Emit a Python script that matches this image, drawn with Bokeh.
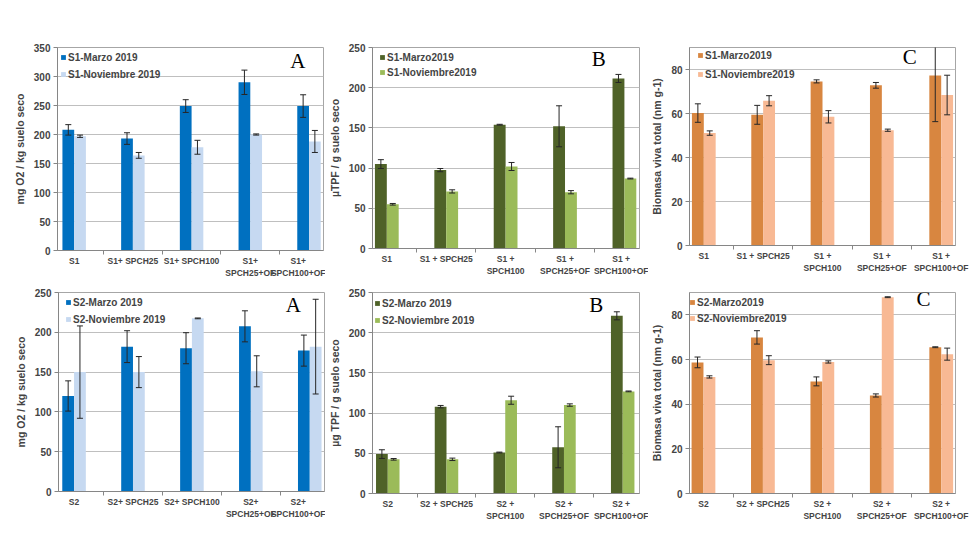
from bokeh.plotting import figure
from bokeh.models import (ColumnDataSource, Whisker, TeeHead, Legend, LegendItem, Label,
                          FixedTicker, Range1d)
from bokeh.layouts import row, column
from bokeh.embed import file_html
from bokeh.resources import INLINE

# ---------------- data ----------------
positions = [0, 1, 2, 3, 4]

cats_s1_a = ["S1", "S1+ SPCH25", "S1+ SPCH100", "S1+\nSPCH25+OF", "S1+\nSPCH100+OF"]
cats_s1 = ["S1", "S1 + SPCH25", "S1 +\nSPCH100", "S1 +\nSPCH25+OF", "S1 +\nSPCH100+OF"]
cats_s2_a = ["S2", "S2+ SPCH25", "S2+ SPCH100", "S2+\nSPCH25+OF", "S2+\nSPCH100+OF"]
cats_s2 = ["S2", "S2 + SPCH25", "S2 +\nSPCH100", "S2 +\nSPCH25+OF", "S2 +\nSPCH100+OF"]

# S1 respiration (A)
s1_resp_mar = [208, 193, 249, 290, 249]
s1_resp_mar_err = [9, 10, 11, 21, 19.5]
s1_resp_nov = [197, 164, 178, 200, 188]
s1_resp_nov_err = [2, 5, 12, 1, 19]
# S1 TPF (B)
s1_tpf_mar = [105, 97.5, 154, 152, 211.5]
s1_tpf_mar_err = [5.5, 2, 0.5, 25.5, 5]
s1_tpf_nov = [55, 71, 102, 70, 87]
s1_tpf_nov_err = [1, 2, 5, 2, 0.5]
# S1 biomass (C)
s1_bio_mar = [60.2, 59.4, 74.6, 72.8, 77.3]
s1_bio_mar_err = [4.2, 4.3, 0.7, 1.3, 21]
s1_bio_nov = [51.1, 65.8, 58.5, 52.4, 68.4]
s1_bio_nov_err = [1, 2.3, 2.8, 0.5, 9]
# S2 respiration (A)
s2_resp_mar = [120, 182, 180, 207.5, 177]
s2_resp_mar_err = [19, 20, 19.5, 19.5, 19.5]
s2_resp_nov = [150, 150, 217.5, 151, 182]
s2_resp_nov_err = [58, 19.5, 0.5, 19.5, 59.5]
# S2 TPF (B)
s2_tpf_mar = [49, 108, 51, 57.5, 221]
s2_tpf_mar_err = [5.4, 1.5, 0.5, 25.5, 5]
s2_tpf_nov = [42.5, 42.5, 116, 110, 127]
s2_tpf_nov_err = [1, 1.5, 5, 1.5, 0.5]
# S2 biomass (C)
s2_bio_mar = [58.7, 69.9, 50.2, 43.9, 65.5]
s2_bio_mar_err = [2.4, 3, 2, 0.7, 0.2]
s2_bio_nov = [52.2, 59.7, 58.9, 87.9, 62.4]
s2_bio_nov_err = [0.5, 2, 0.5, 0.2, 2.7]

ticks_resp_s1 = [0, 50, 100, 150, 200, 250, 300, 350]
ticks_250 = [0, 50, 100, 150, 200, 250]
ticks_bio = [0, 20, 40, 60, 80]

BLUE_D, BLUE_L = "#0070C0", "#C6D9F1"
GREEN_D, GREEN_L = "#4F6228", "#9BBB59"
ORANGE_D, ORANGE_L = "#D88640", "#F8B994"

FONT = "Liberation Sans"
GRID = "#BFBFBF"
AXIS = "#868686"


def panel(cats, mar, mar_err, nov, nov_err, labels, colors, ylabel, yticks, ymax,
          letter, letter_xy, xr, FW, FH, bl, br, bt, bb, leg_x, leg_top, leg_sp):
    p = figure(frame_width=FW, frame_height=FH, x_range=Range1d(*xr),
               y_range=Range1d(0, ymax),
               output_backend="svg", toolbar_location=None,
               min_border_left=bl, min_border_right=br, min_border_top=bt,
               min_border_bottom=bb)
    p.outline_line_color = "#A6A6A6"
    p.background_fill_color = "white"
    p.border_fill_color = "white"

    rends = []
    for off, vals, errs, col in ((-0.1, mar, mar_err, colors[0]),
                                 (0.1, nov, nov_err, colors[1])):
        xs = [x + off for x in positions]
        src = ColumnDataSource(dict(x=xs, top=vals,
                                    upper=[v + e for v, e in zip(vals, errs)],
                                    lower=[v - e for v, e in zip(vals, errs)]))
        r = p.vbar(x="x", top="top", width=0.2, source=src, fill_color=col,
                   line_color=None)
        rends.append(r)
        w = Whisker(base="x", upper="upper", lower="lower", source=src,
                    line_color="#262626", line_width=1, level="overlay",
                    upper_head=TeeHead(size=6, line_color="#262626", line_width=1),
                    lower_head=TeeHead(size=6, line_color="#262626", line_width=1))
        p.add_layout(w)

    item_h = 14
    leg_h = 2 * item_h + leg_sp
    leg = Legend(items=[LegendItem(label=labels[0], renderers=[rends[0]]),
                        LegendItem(label=labels[1], renderers=[rends[1]])],
                 location=(leg_x, FH - leg_top - leg_h), glyph_width=6, glyph_height=6,
                 label_height=item_h, label_width=10, spacing=leg_sp, padding=0,
                 margin=0, label_standoff=2,
                 label_text_font=FONT, label_text_font_style="bold",
                 label_text_font_size="10px", background_fill_alpha=0,
                 border_line_alpha=0)
    p.add_layout(leg)

    p.add_layout(Label(x=letter_xy[0], y=letter_xy[1], text=letter,
                       text_font="Liberation Serif", text_font_size="21px",
                       text_align="center", text_baseline="middle", text_color="black"))

    xa = p.xaxis[0]
    xa.ticker = FixedTicker(ticks=positions, minor_ticks=[0.5, 1.5, 2.5, 3.5])
    xa.major_label_overrides = {i: c for i, c in zip(positions, cats)}
    xa.major_tick_line_color = None
    xa.major_tick_out = 0
    xa.major_tick_in = 0
    xa.minor_tick_out = 4
    xa.minor_tick_in = 0
    xa.minor_tick_line_color = AXIS
    xa.axis_line_color = AXIS
    xa.major_label_standoff = 1
    xa.major_label_text_font = FONT
    xa.major_label_text_font_style = "bold"
    xa.major_label_text_font_size = "8.5px"

    ya = p.yaxis[0]
    ya.ticker = FixedTicker(ticks=yticks)
    ya.major_tick_out = 4
    ya.major_tick_in = 0
    ya.major_tick_line_color = AXIS
    ya.minor_tick_line_color = None
    ya.axis_line_color = AXIS
    ya.major_label_standoff = 3
    ya.major_label_text_font = FONT
    ya.major_label_text_font_style = "bold"
    ya.major_label_text_font_size = "10px"
    ya.axis_label = ylabel
    ya.axis_label_standoff = 5
    ya.axis_label_text_font = FONT
    ya.axis_label_text_font_style = "bold"
    ya.axis_label_text_font_size = "10.5px"

    p.xgrid.grid_line_color = None
    p.ygrid.grid_line_color = GRID
    return p


f1 = panel(cats_s1_a, s1_resp_mar, s1_resp_mar_err, s1_resp_nov, s1_resp_nov_err,
           ["S1-Marzo 2019", "S1-Noviembre 2019"], (BLUE_D, BLUE_L),
           "mg O2 / kg suelo seco", ticks_resp_s1, 350, "A", (3.81, 327),
           (-0.284, 4.247), 266, 203, 57, 2, 43, 36, 3, 3, 3)
f2 = panel(cats_s1, s1_tpf_mar, s1_tpf_mar_err, s1_tpf_nov, s1_tpf_nov_err,
           ["S1-Marzo2019", "S1-Noviembre2019"], (GREEN_D, GREEN_L),
           "µTPF / g suelo seco", ticks_250, 250, "B", (3.57, 236),
           (-0.241, 4.254), 267, 201, 44, 9, 44, 37, 7, 3, 1)
f3 = panel(cats_s1, s1_bio_mar, s1_bio_mar_err, s1_bio_nov, s1_bio_nov_err,
           ["S1-Marzo2019", "S1-Noviembre2019"], (ORANGE_D, ORANGE_L),
           "Biomasa viva total (nm g-1)", ticks_bio, 90, "C", (3.47, 85.6),
           (-0.241, 4.241), 266, 198, 38, 20, 47, 37, 8, 1, 5)
f4 = panel(cats_s2_a, s2_resp_mar, s2_resp_mar_err, s2_resp_nov, s2_resp_nov_err,
           ["S2-Marzo 2019", "S2-Noviembre 2019"], (BLUE_D, BLUE_L),
           "mg O2 / kg suelo seco", ticks_250, 250, "A", (3.72, 234),
           (-0.264, 4.25), 266, 199, 58, 1, 10, 36, 7, 3, 3)
f5 = panel(cats_s2, s2_tpf_mar, s2_tpf_mar_err, s2_tpf_nov, s2_tpf_nov_err,
           ["S2-Marzo 2019", "S2-Noviembre 2019"], (GREEN_D, GREEN_L),
           "µg TPF / g suelo seco", ticks_250, 250, "B", (3.55, 235),
           (-0.26, 4.286), 267, 201, 44, 9, 9, 36, 2, 4, 3)
f6 = panel(cats_s2, s2_bio_mar, s2_bio_mar_err, s2_bio_nov, s2_bio_nov_err,
           ["S2-Marzo2019", "S2-Noviembre2019"], (ORANGE_D, ORANGE_L),
           "Biomasa viva total (nm g-1)", ticks_bio, 90, "C", (3.70, 86.9),
           (-0.235, 4.24), 266, 201, 37, 20, 9, 36, 0, 3, 2)

layout = column(row(f1, f2, f3), row(f4, f5, f6))

open("out.html", "w").write(file_html(layout, INLINE))
